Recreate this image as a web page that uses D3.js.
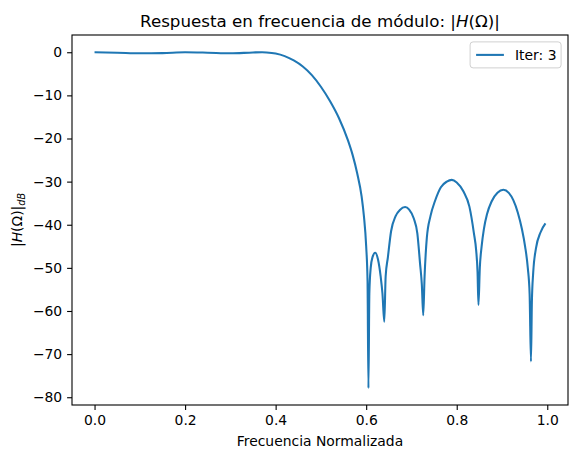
<!DOCTYPE html>
<html><head><meta charset="utf-8">
<script src="https://cdn.jsdelivr.net/npm/d3@7"></script>
<style>
body{margin:0;background:#fff;}
text{font-family:"DejaVu Sans",sans-serif;}
</style></head>
<body><svg id="c" width="577" height="458"></svg>
<script>
const freq = [0.000,0.050,0.100,0.150,0.200,0.250,0.300,0.350,0.370,0.380,0.400,0.420,0.440,0.460,0.480,0.500,0.520,0.540,0.560,0.570,0.580,0.590,0.595,0.600,0.603,0.605,0.607,0.610,0.614,0.620,0.626,0.632,0.636,0.640,0.643,0.648,0.655,0.665,0.675,0.686,0.695,0.705,0.713,0.719,0.723,0.726,0.729,0.734,0.742,0.752,0.765,0.778,0.789,0.800,0.815,0.828,0.838,0.843,0.846,0.848,0.851,0.855,0.860,0.867,0.877,0.890,0.903,0.915,0.925,0.935,0.944,0.951,0.957,0.961,0.964,0.966,0.969,0.975,0.985,0.996];
const magDb = [0.0,-0.1,-0.25,-0.2,0.0,-0.1,-0.25,-0.05,0.0,-0.05,-0.3,-0.9,-1.9,-3.3,-5.3,-8.0,-11.3,-15.3,-20.5,-23.8,-28.0,-33.5,-38,-45,-53,-77.9,-56,-50,-47.5,-46.5,-48,-52,-56,-62.5,-52,-47.5,-41.5,-38,-36.5,-35.9,-36.5,-38.5,-42,-49,-54,-61,-52,-43,-38,-34.5,-31.3,-30,-29.6,-30.2,-32.3,-35.8,-42,-46,-51,-58.6,-50,-45,-41,-37.5,-34.6,-32.6,-31.9,-32.6,-34.3,-37.2,-41,-45,-50,-56,-71.7,-58,-51,-45.5,-41.8,-39.7];
const xTicks = [0.0,0.2,0.4,0.6,0.8,1.0];
const yTicks = [0,-10,-20,-30,-40,-50,-60,-70,-80];
const legendLabel = "Iter: 3";

const svg = d3.select("#c");
const L=72, R=568, T=35, B=405;
const x = d3.scaleLinear().domain([-0.0498,1.0458]).range([L,R]);
const y = d3.scaleLinear().domain([-81.8,4.0]).range([B,T]);
const fmtMinus = s => s.replace("-", "\u2212");

// line
const data = freq.map((f,i)=>[f,magDb[i]]);
svg.append("path").datum(data)
  .attr("fill","none").attr("stroke","#1f77b4").attr("stroke-width",2.08)
  .attr("stroke-linejoin","round").attr("stroke-linecap","butt")
  .attr("d", d3.line().x(d=>x(d[0])).y(d=>y(d[1])).curve(d3.curveMonotoneX));

// axes
const xa = svg.append("g").attr("transform",`translate(0,${B})`)
  .call(d3.axisBottom(x).tickValues(xTicks).tickFormat(d3.format(".1f")).tickSizeInner(4.9).tickSizeOuter(0).tickPadding(4.9));
const ya = svg.append("g").attr("transform",`translate(${L},0)`)
  .call(d3.axisLeft(y).tickValues(yTicks).tickFormat(d=>fmtMinus(String(d))).tickSizeInner(4.9).tickSizeOuter(0).tickPadding(4.9));
[xa,ya].forEach(g=>{
  g.select(".domain").remove();
  g.selectAll("line").attr("stroke","#000").attr("stroke-width",1.1);
  g.selectAll("text").attr("font-size","13.9px").attr("fill","#000").attr("font-family","DejaVu Sans");
});
// frame
svg.append("rect").attr("x",L).attr("y",T).attr("width",R-L).attr("height",B-T)
  .attr("fill","none").attr("stroke","#000").attr("stroke-width",1.1);

// title
const title = svg.append("text").attr("x",(L+R)/2).attr("y",27).attr("text-anchor","middle")
  .attr("font-size","16.7px").attr("fill","#000");
title.append("tspan").text("Respuesta en frecuencia de módulo: |");
title.append("tspan").attr("font-style","italic").text("H");
title.append("tspan").text("(Ω)|");

// x label
svg.append("text").attr("x",(L+R)/2).attr("y",446).attr("text-anchor","middle")
  .attr("font-size","13.9px").attr("fill","#000").text("Frecuencia Normalizada");

// y label
const yl = svg.append("text").attr("transform",`translate(22,${(T+B)/2}) rotate(-90)`)
  .attr("text-anchor","middle").attr("font-size","13.9px").attr("fill","#000");
yl.append("tspan").text("|");
yl.append("tspan").attr("font-style","italic").text("H");
yl.append("tspan").text("(Ω)|");
yl.append("tspan").attr("font-style","italic").attr("font-size","9.7px").attr("dy",3).text("dB");

// legend
const lw = 91, lh = 26, lx = R-6.9-lw, ly = T+6.9;
svg.append("rect").attr("x",lx).attr("y",ly).attr("width",lw).attr("height",lh).attr("rx",3)
  .attr("fill","#fff").attr("fill-opacity",0.8).attr("stroke","#d0d0d0").attr("stroke-width",1);
svg.append("line").attr("x1",lx+6).attr("x2",lx+33.8).attr("y1",ly+lh/2).attr("y2",ly+lh/2)
  .attr("stroke","#1f77b4").attr("stroke-width",2.08);
svg.append("text").attr("x",lx+44.9).attr("y",ly+lh/2+5).attr("font-size","13.9px").attr("fill","#000").text(legendLabel);
</script></body></html>
